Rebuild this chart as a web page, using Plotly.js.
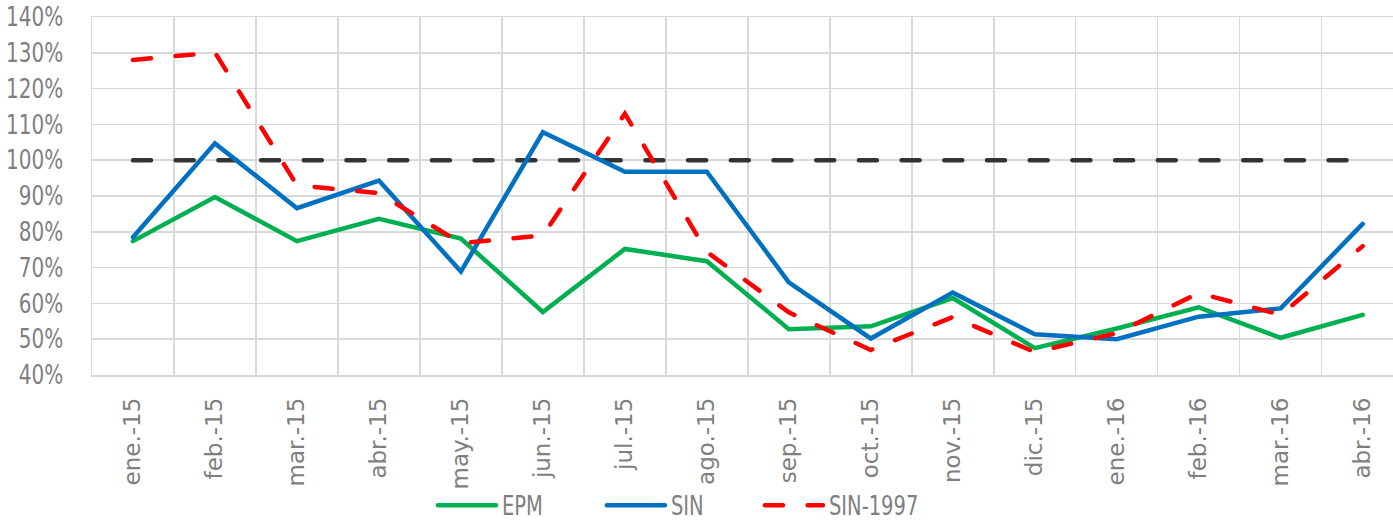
<!DOCTYPE html>
<html>
<head>
<meta charset="utf-8">
<script src="https://cdn.plot.ly/plotly-3.0.1.min.js"></script>
<style>
  html, body { margin: 0; padding: 0; background: #ffffff; }
  #chart { width: 1393px; height: 522px; }
</style>
</head>
<body>
<div id="chart"></div>
<script>
// Categories (month labels)
const months = ["ene.-15","feb.-15","mar.-15","abr.-15","may.-15","jun.-15","jul.-15","ago.-15",
                "sep.-15","oct.-15","nov.-15","dic.-15","ene.-16","feb.-16","mar.-16","abr.-16"];

// Series values (fractions)
const epm     = [0.774, 0.897, 0.774, 0.836, 0.781, 0.576, 0.752, 0.718, 0.528, 0.536, 0.615, 0.475, 0.530, 0.589, 0.504, 0.568];
const sin     = [0.785, 1.047, 0.866, 0.943, 0.689, 1.078, 0.968, 0.968, 0.659, 0.502, 0.630, 0.514, 0.500, 0.563, 0.586, 0.822];
const sin1997 = [1.280, 1.301, 0.930, 0.908, 0.768, 0.790, 1.130, 0.744, 0.575, 0.470, 0.562, 0.464, 0.517, 0.629, 0.568, 0.760];
const ref100  = [1,1,1,1,1,1,1,1,1,1,1,1,1,1,1,1];

const grayText = "#7f7f7f";
const gridCol = "#d9d9d9";

const traces = [
  { x: months, y: ref100, type: "scatter", mode: "lines", name: "100%", showlegend: false,
    line: { color: "#333333", width: 4.5, dash: "18px,24.7px" }, hoverinfo: "skip" },
  { x: months, y: epm, type: "scatter", mode: "lines", name: "EPM",
    line: { color: "#00B050", width: 4.5 } },
  { x: months, y: sin, type: "scatter", mode: "lines", name: "SIN",
    line: { color: "#0070C0", width: 4.5 } },
  { x: months, y: sin1997, type: "scatter", mode: "lines", name: "SIN-1997",
    line: { color: "#FF0000", width: 4.5, dash: "18px,24.7px" } }
];

const layout = {
  width: 1393, height: 522,
  margin: { l: 92, r: 0, t: 17, b: 147, pad: 0, autoexpand: false },
  paper_bgcolor: "#ffffff", plot_bgcolor: "#ffffff",
  showlegend: true,
  xaxis: {
    type: "category",
    range: [-0.5, 15.37],
    tickson: "boundaries",
    showgrid: true, gridcolor: gridCol, gridwidth: 1.5,
    showline: true, linecolor: gridCol, linewidth: 1.5, mirror: true,
    zeroline: false,
    ticks: "",
    tickangle: -90,
    ticklabelstandoff: 12,
    tickfont: { family: "DejaVu Sans", size: 23, color: grayText }
  },
  yaxis: {
    range: [0.4, 1.4],
    dtick: 0.1, tick0: 0.4,
    tickformat: ".0%",
    showgrid: true, gridcolor: gridCol, gridwidth: 1.5,
    showline: true, linecolor: gridCol, linewidth: 1.5, mirror: false,
    zeroline: false,
    ticks: "",
    ticklabelstandoff: 22,
    tickfont: { family: "DejaVu Sans", size: 26, color: grayText }
  },
  legend: {
    orientation: "h",
    xref: "container", yref: "container",
    x: 0.3108, xanchor: "left",
    y: 0.032, yanchor: "middle",
    font: { family: "DejaVu Sans", size: 26, color: grayText },
    entrywidth: 123, entrywidthmode: "pixels",
    bgcolor: "rgba(0,0,0,0)"
  }
};

// legend entry offsets (px from legend origin)
const legendOffsets = [0, 169, 327];

function squeeze(sel, f) {
  document.querySelectorAll(sel).forEach(function (t) {
    if (t.getAttribute("data-sq")) return;
    const L = t.getComputedTextLength();
    t.setAttribute("textLength", (L * f).toFixed(1));
    t.setAttribute("lengthAdjust", "spacingAndGlyphs");
    t.setAttribute("data-sq", "1");
  });
}

function finish() {
  document.querySelectorAll("#chart .scatterlayer .js-line").forEach(function (p) {
    p.style.strokeLinecap = "round";
  });
  const items = document.querySelectorAll("#chart .legend g.traces");
  items.forEach(function (g, i) {
    const tr = g.getAttribute("transform") || "";
    const m = tr.match(/translate\(([-\d.e]+)[ ,]+([-\d.e]+)\)/);
    const ty = m ? parseFloat(m[2]) : 0;
    if (legendOffsets[i] !== undefined) g.setAttribute("transform", "translate(" + legendOffsets[i] + "," + ty + ")");
    g.querySelectorAll(".legendlines path").forEach(function (p) {
      p.setAttribute("d", "M5,0h58");
      p.style.strokeLinecap = "round";
    });
    g.querySelectorAll("text.legendtext").forEach(function (t) { t.setAttribute("x", "69"); });
  });
  squeeze("#chart .ytick text", 0.77);
  squeeze("#chart .legendtext", 0.75);
}

const gd = document.getElementById("chart");
Plotly.newPlot(gd, traces, layout, { displayModeBar: false, staticPlot: true }).then(function () {
  finish();
  gd.on("plotly_afterplot", finish);
  setTimeout(finish, 50);
  setTimeout(finish, 300);
});
</script>
</body>
</html>
